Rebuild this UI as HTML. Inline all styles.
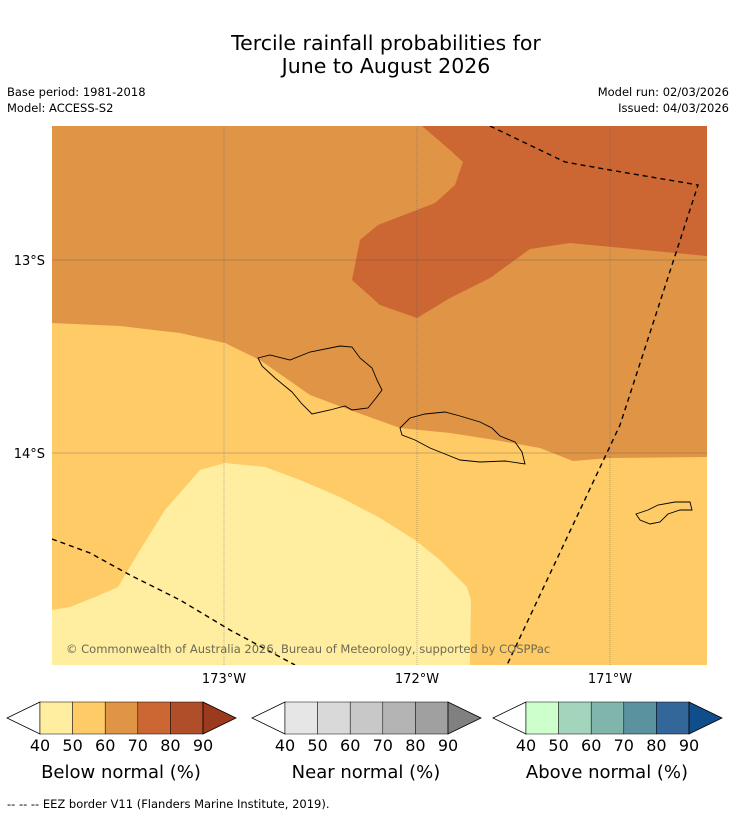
<!DOCTYPE html>
<html><head><meta charset="utf-8"><style>
body{margin:0;background:#fff;width:736px;height:816px;overflow:hidden;font-family:"DejaVu Sans",sans-serif}
svg{display:block}
</style></head><body>
<svg id="s" width="736" height="816" viewBox="0 0 736 816" font-family="DejaVu Sans, sans-serif">
<text x="386" y="50" font-size="20.5" text-anchor="middle">Tercile rainfall probabilities for</text>
<text x="386" y="73" font-size="20.5" text-anchor="middle">June to August 2026</text>
<text x="7" y="96" font-size="11.5">Base period: 1981-2018</text>
<text x="7" y="112" font-size="11.5">Model: ACCESS-S2</text>
<text x="729" y="96" font-size="11.5" text-anchor="end">Model run: 02/03/2026</text>
<text x="729" y="112" font-size="11.5" text-anchor="end">Issued: 04/03/2026</text>
<defs><clipPath id="mc"><rect x="52" y="126" width="655" height="539"/></clipPath></defs>
<g clip-path="url(#mc)">
<rect x="52" y="126" width="655" height="539" fill="#e09445"/>
<path fill="#fecb66" d="M52,323 L120,326 L180,333 L225,343 L260,360 L310,395 L350,410 L400,428 L450,433 L495,440 L540,448 L573,461 L610,458 L707,457 L707,665 L52,665Z"/>
<path fill="#cc6633" d="M422,126 L707,126 L707,256 L570,243 L530,249 L490,278 L450,298 L417,318 L380,305 L352,280 L360,240 L378,225 L435,203 L455,185 L463,162 L450,150Z"/>
<path fill="#ffeda0" d="M52,610 L70,607 L95,597 L118,587 L140,550 L165,510 L200,470 L225,463 L265,467 L300,480 L340,497 L380,518 L415,540 L440,560 L467,587 L471,600 L470,665 L52,665Z"/>
<g stroke="#555" stroke-width="0.6" stroke-opacity="0.6">
<line x1="224" y1="126" x2="224" y2="665" stroke-dasharray="1,1"/><line x1="417" y1="126" x2="417" y2="665" stroke-dasharray="1,1"/><line x1="610" y1="126" x2="610" y2="665" stroke-dasharray="1,1"/>
<line x1="52" y1="260" x2="707" y2="260"/><line x1="52" y1="453" x2="707" y2="453"/>
</g>
<g fill="none" stroke="#000" stroke-width="0.9">
<path d="M258,358 L270,355 L290,360 L310,352 L340,346 L352,347 L360,358 L372,368 L377,380 L382,390 L376,398 L368,408 L352,410 L345,406 L330,410 L312,414 L302,404 L292,392 L275,378 L262,366Z"/>
<path d="M400,428 L410,418 L425,414 L445,412 L460,416 L480,422 L492,428 L500,436 L515,442 L522,452 L525,464 L505,461 L480,462 L460,460 L445,454 L430,448 L415,440 L402,435Z"/>
<path d="M636,514 L648,510 L658,505 L675,502 L690,502 L692,510 L680,510 L668,514 L660,522 L650,524 L640,520Z"/>
</g>
<g fill="none" stroke="#000" stroke-width="1.4" stroke-dasharray="5,4">
<path d="M490,126 L565,162 L610,170 L698,185 L620,425 L507,665"/>
<path d="M52,539 L90,553 L130,575 L180,600 L230,630 L295,665"/>
</g>
<text x="66" y="653" font-size="11.5" fill="#6e6a55">© Commonwealth of Australia 2026, Bureau of Meteorology, supported by COSPPac</text>
</g>
<g font-size="13">
<text x="45" y="265" text-anchor="end">13°S</text>
<text x="45" y="458" text-anchor="end">14°S</text>
<text x="224" y="683" text-anchor="middle">173°W</text>
<text x="417" y="683" text-anchor="middle">172°W</text>
<text x="610" y="683" text-anchor="middle">171°W</text>
</g>
<g id="bars"></g>
<text x="7" y="808" font-size="11.5">--  --  -- EEZ border V11 (Flanders Marine Institute, 2019).</text>
</svg>
<script>
const ticks=[40,50,60,70,80,90];
const belowColors=["#fff","#ffeda0","#fecb66","#e09445","#cc6633","#b04e29","#9c3a1e"];
const nearColors=["#fff","#e6e6e6","#d9d9d9","#c8c8c8","#b4b4b4","#a0a0a0","#808080"];
const aboveColors=["#fff","#ccffcc","#a2d5bc","#80b5ab","#5a929f","#336699","#104e8b"];
const bars=[["below",40,belowColors,"Below normal (%)"],["near",285,nearColors,"Near normal (%)"],["above",526,aboveColors,"Above normal (%)"]];
const g=document.getElementById('bars');const NS="http://www.w3.org/2000/svg";
function mk(t,a){const e=document.createElementNS(NS,t);for(const k in a)e.setAttribute(k,a[k]);g.appendChild(e);return e;}
const y0=702,y1=734;
bars.forEach(([nm,x0,cols,lab])=>{
 const x=v=>x0+(v-ticks[0])/(ticks[ticks.length-1]-ticks[0])*163;
 let p=mk('polygon',{points:`${x0},${y0} ${x0-33},${(y0+y1)/2} ${x0},${y1}`,fill:cols[0],stroke:'#000','stroke-width':0.8});
 
 
 for(let i=0;i<ticks.length-1;i++){
  const r=mk('rect',{x:x(ticks[i]),y:y0,width:x(ticks[i+1])-x(ticks[i]),height:y1-y0,fill:cols[i+1],stroke:'#000','stroke-width':0.5});
  
  
 }
 const e=x(ticks[ticks.length-1]);
 p=mk('polygon',{points:`${e},${y0} ${e+33},${(y0+y1)/2} ${e},${y1}`,fill:cols[6],stroke:'#000','stroke-width':0.8});
 
 
 ticks.forEach(t=>{const tx=mk('text',{x:x(t),y:751,'font-size':16,'text-anchor':'middle'});tx.textContent=t;
  
  });
 const l=mk('text',{x:x0+81,y:778,'font-size':18,'text-anchor':'middle'});l.textContent=lab;
 
 
});
</script>
</body></html>
